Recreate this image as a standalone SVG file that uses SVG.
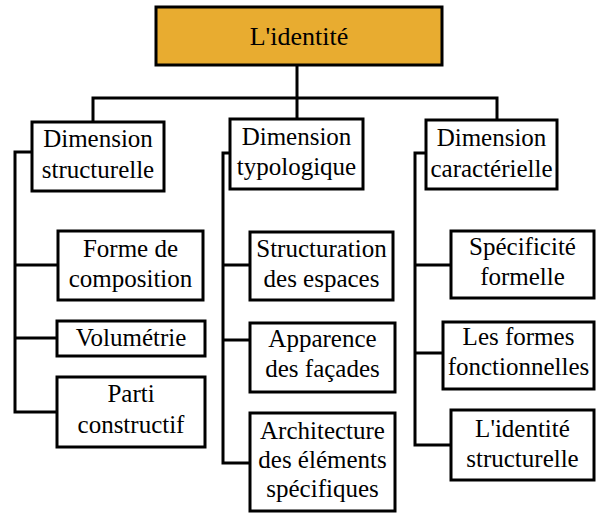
<svg xmlns="http://www.w3.org/2000/svg" width="596" height="514" viewBox="0 0 596 514">
<style>
.box{fill:#fff;stroke:#000;stroke-width:3}
.root{fill:#E8AC30;stroke:#000;stroke-width:3}
.conn{fill:none;stroke:#000;stroke-width:3;stroke-linejoin:miter;stroke-linecap:square}
text{font-family:'Liberation Serif','DejaVu Serif',serif;font-size:25px;fill:#000;text-anchor:middle}
</style>
<g id="connectors">
<path class="conn" d="M297 65V98M93 122V98H497V120M297 98V119"/>
<path class="conn" d="M32 152H15V412H57M15 265H58M15 338H57"/>
<path class="conn" d="M230 153H223V463H250M223 265H250M223 340H250"/>
<path class="conn" d="M426 153H415V445H451M415 265H451M415 353H443"/>
</g>
<g id="root"><rect class="root" x="156" y="7" width="286" height="58"/><text x="299" y="45" style="font-size:26px">L'identité</text></g>
<g id="dim-structurelle"><rect class="box" x="32" y="122" width="132" height="69"/><text x="98" y="147">Dimension</text><text x="98" y="178">structurelle</text></g>
<g id="dim-typologique"><rect class="box" x="230" y="119" width="133" height="70"/><text x="296.5" y="145">Dimension</text><text x="296.5" y="175">typologique</text></g>
<g id="dim-caracterielle"><rect class="box" x="426" y="120" width="131" height="69"/><text x="491.5" y="146">Dimension</text><text x="491.5" y="177">caractérielle</text></g>
<g id="forme-composition"><rect class="box" x="58" y="231" width="145" height="69"/><text x="130.5" y="257">Forme de</text><text x="130.5" y="287">composition</text></g>
<g id="volumetrie"><rect class="box" x="57" y="321" width="148" height="35"/><text x="131" y="346">Volumétrie</text></g>
<g id="parti-constructif"><rect class="box" x="57" y="377" width="148" height="70"/><text x="131" y="402">Parti</text><text x="131" y="433">constructif</text></g>
<g id="structuration"><rect class="box" x="250" y="232" width="143" height="68"/><text x="321.5" y="257">Structuration</text><text x="321.5" y="287">des espaces</text></g>
<g id="apparence"><rect class="box" x="250" y="323" width="145" height="69"/><text x="322.5" y="347">Apparence</text><text x="322.5" y="377">des façades</text></g>
<g id="architecture"><rect class="box" x="250" y="413" width="145" height="98"/><text x="322.5" y="439">Architecture</text><text x="322.5" y="468">des éléments</text><text x="322.5" y="497">spécifiques</text></g>
<g id="specificite"><rect class="box" x="451" y="231" width="143" height="67"/><text x="522.5" y="255">Spécificité</text><text x="522.5" y="285">formelle</text></g>
<g id="formes-fonctionnelles"><rect class="box" x="443" y="322" width="151" height="67"/><text x="518.5" y="345">Les formes</text><text x="518.5" y="375">fonctionnelles</text></g>
<g id="identite-structurelle"><rect class="box" x="451" y="410" width="143" height="70"/><text x="522.5" y="437">L'identité</text><text x="522.5" y="467">structurelle</text></g>
</svg>
